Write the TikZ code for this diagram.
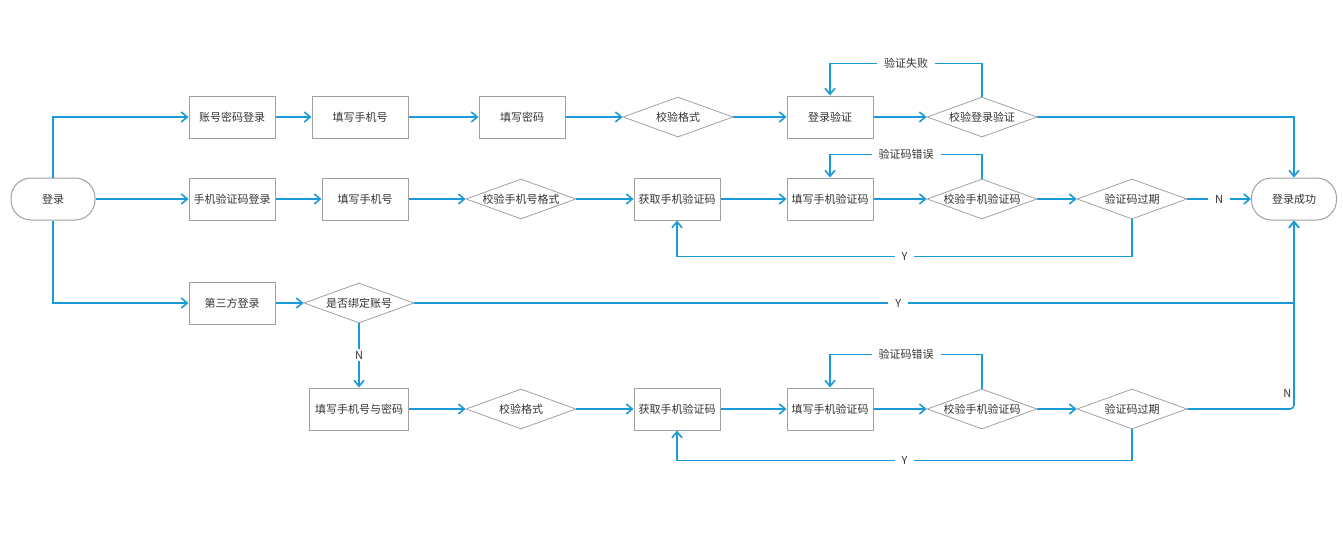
\documentclass[tikz,border=0pt]{standalone}
\usepackage{fontspec}
\setmainfont{Noto Sans CJK SC}
\usetikzlibrary{shapes.geometric, arrows.meta}

\definecolor{flowblue}{HTML}{1A9AD6}
\definecolor{boxgray}{HTML}{A0A0A0}
\definecolor{txtgray}{HTML}{333333}
\newcommand\flowfont{\fontsize{11pt}{13pt}\selectfont}

\begin{document}
\begin{tikzpicture}
        [x=1pt, y=-1pt, >={Straight Barb[length=6pt, width=10pt]},
         box/.style={rectangle, draw=boxgray, line width=1pt, minimum width=86pt, minimum height=42pt, inner sep=0pt, text=txtgray, font=\flowfont},
         term/.style={box, rounded corners=20pt, minimum width=84pt},
         dia/.style={diamond, draw=boxgray, line width=0.8pt, aspect=2.75, minimum width=110pt, minimum height=40pt, inner sep=0pt, text height=8pt, text depth=0pt, text=txtgray, font=\flowfont},
         lbl/.style={fill=white, inner xsep=7pt, inner ysep=2pt, text=txtgray, font=\flowfont},
         note/.style={inner sep=2pt, text=txtgray, font=\flowfont},
         flow/.style={->, draw=flowblue, line width=1.6pt}]

        \useasboundingbox (0, 0) rectangle (1343, 535);

        % start / end
        \node[term] (login) at (53, 199) {登录};
        \node[term, minimum width=85pt] (success) at (1294, 199) {登录成功};

        % account + password
        \node[box] (pwd-1) at (232, 117) {账号密码登录};
        \node[box, minimum width=96pt] (pwd-2) at (360, 117) {填写手机号};
        \node[box] (pwd-3) at (522, 117) {填写密码};
        \node[dia] (pwd-4) at (678, 117) {校验格式};
        \node[box] (pwd-5) at (830, 117) {登录验证};
        \node[dia] (pwd-6) at (982, 117) {校验登录验证};

        % sms code
        \node[box] (sms-1) at (232, 199) {手机验证码登录};
        \node[box] (sms-2) at (365, 199) {填写手机号};
        \node[dia] (sms-3) at (521, 199) {校验手机号格式};
        \node[box] (sms-4) at (677, 199) {获取手机验证码};
        \node[box] (sms-5) at (830, 199) {填写手机验证码};
        \node[dia] (sms-6) at (982, 199) {校验手机验证码};
        \node[dia] (sms-7) at (1132, 199) {验证码过期};

        % third party
        \node[box] (third-1) at (232, 303) {第三方登录};
        \node[dia] (third-2) at (359, 303) {是否绑定账号};

        \node[box, minimum width=99pt] (bind-1) at (359, 409) {填写手机号与密码};
        \node[dia] (bind-2) at (521, 409) {校验格式};
        \node[box] (bind-3) at (677, 409) {获取手机验证码};
        \node[box] (bind-4) at (830, 409) {填写手机验证码};
        \node[dia] (bind-5) at (982, 409) {校验手机验证码};
        \node[dia] (bind-6) at (1132, 409) {验证码过期};

        \draw[flow] (login.north) |- (pwd-1.west);
        \draw[flow] (login.east) -- (sms-1.west);
        \draw[flow] (login.south) |- (third-1.west);

        \foreach \i/\j in {1/2, 2/3, 3/4, 4/5, 5/6}
        \draw[flow] (pwd-\i) -- (pwd-\j);

        \foreach \i/\j in {1/2, 2/3, 3/4, 4/5, 5/6, 6/7}
        \draw[flow] (sms-\i) -- (sms-\j);

        \foreach \i/\j in {1/2, 2/3, 3/4, 4/5, 5/6}
        \draw[flow] (bind-\i) -- (bind-\j);

        \draw[flow] (third-1) -- (third-2);

        % loops back
        \draw[flow] (pwd-6.north) -- ++(0, -33) -| node[lbl, pos=0.25] {验证失败} (pwd-5.north);
        \draw[flow] (sms-6.north) -- ++(0, -24) -| node[lbl, pos=0.25] {验证码错误} (sms-5.north);
        \draw[flow] (bind-5.north) -- ++(0, -34) -| node[lbl, pos=0.25] {验证码错误} (bind-4.north);
        \draw[flow] (sms-7.south) -- ++(0, 37) -| node[lbl, pos=0.25] {Y} (sms-4.south);
        \draw[flow] (bind-6.south) -- ++(0, 31) -| node[lbl, pos=0.25] {Y} (bind-3.south);

        % to success
        \draw[flow] (pwd-6.east) -| (success.north);
        \draw[flow] (sms-7.east) -- node[lbl] {N} (success.west);
        \draw[flow] (third-2.east) -| node[lbl, pos=0.275] {Y} (success.south);
        \draw[flow] (third-2.south) -- node[lbl] {N} (bind-1.north);
        \draw[flow, rounded corners=4pt] (bind-6.east) -| node[note, pos=0.54, left] {N} (success.south);
    \end{tikzpicture}
\end{document}
